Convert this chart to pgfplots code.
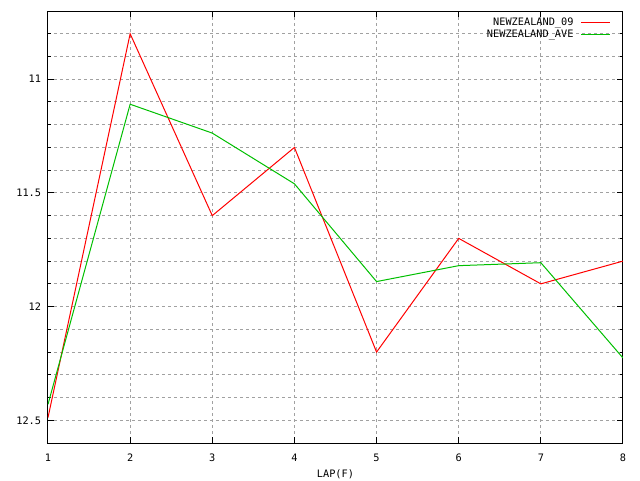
\documentclass[border=0pt]{standalone}
\usepackage{pgfplots}
\pgfplotsset{compat=1.18}
\usepackage{fontspec}
\setmainfont{DejaVu Sans Mono}
\definecolor{gpred}{rgb}{1,0,0}
\definecolor{gpgreen}{rgb}{0,0.75,0}
\definecolor{gpgrid}{rgb}{0.63,0.63,0.63}

\begin{document}
\begin{tikzpicture}
  \begin{axis}[
    at={(0pt,0pt)}, anchor=south west,
    scale only axis,
    width=431.25pt, height=324pt,
    xmin=1, xmax=8,
    ymin=10.7, ymax=12.6,
    y dir=reverse,
    xtick={1,2,3,4,5,6,7,8},
    ytick={11,11.5,12,12.5},
    yticklabels={11,11.5,12,12.5},
    minor ytick={10.8,10.9,11.1,11.2,11.3,11.4,11.6,11.7,11.8,11.9,12.1,12.2,12.3,12.4},
    tick align=inside,
    major tick length=4.5pt,
    minor tick length=2.5pt,
    every tick/.style={black, line width=0.75pt},
    axis line style={black, line width=0.75pt},
    grid=both,
    major grid style={gpgrid, line width=0.75pt, dash pattern=on 2.25pt off 2.25pt},
    minor grid style={gpgrid, line width=0.75pt, dash pattern=on 2.25pt off 2.25pt},
    /pgf/number format/assume math mode=true,
    tick label style={font=\fontsize{7.7}{9}\selectfont, inner sep=0pt},
    xticklabel style={yshift=-8.25pt},
    yticklabel style={xshift=-5pt},
    xlabel={LAP(F)},
    xlabel style={font=\fontsize{7.7}{9}\selectfont, inner sep=0pt,
      at={(axis description cs:0.5,0)}, anchor=center, yshift=-23.5pt},
    legend plot pos=right,
    legend cell align=right,
    legend image code/.code={\draw[#1, line width=0.9pt, solid] (0pt,0pt) -- (21.75pt,0pt);},
    legend style={at={(1,1)}, anchor=north east, xshift=-9pt, yshift=-5pt,
      draw=none, fill=none,
      font=\fontsize{7.7}{9}\selectfont,
      inner sep=0pt, nodes={inner sep=0pt, text height=5.6pt, text depth=1.3pt},
      row sep=1.8pt,
      /tikz/every odd column/.append style={column sep=5.25pt}},
  ]
    \addplot[gpred, line width=0.75pt] coordinates {
      (1,12.488) (2,10.80) (3,11.60) (4,11.30) (5,12.20) (6,11.70) (7,11.90) (8,11.80)
    };
    \addlegendentry{NEWZEALAND\_09}
    \addplot[gpgreen, line width=0.75pt] coordinates {
      (1,12.43) (2,11.11) (3,11.237) (4,11.46) (5,11.89) (6,11.82) (7,11.807) (8,12.226)
    };
    \addlegendentry{NEWZEALAND\_AVE}
  \end{axis}
  \pgfresetboundingbox
  \path[use as bounding box] (-36pt,-27.75pt) rectangle (444pt,332.25pt);
\end{tikzpicture}
\end{document}
